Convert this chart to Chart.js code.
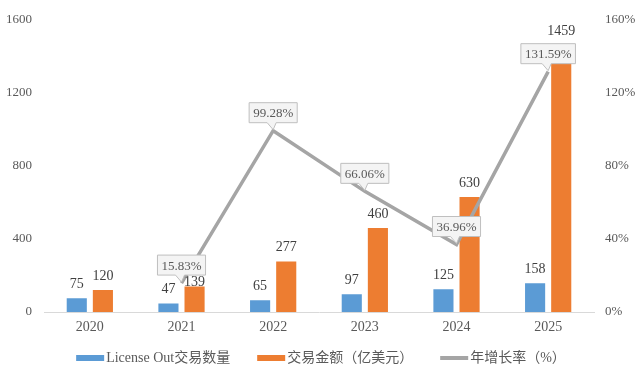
<!DOCTYPE html>
<html>
<head>
<meta charset="utf-8">
<script src="https://cdn.jsdelivr.net/npm/chart.js@4/dist/chart.umd.min.js"></script>
<style>
  html, body { margin: 0; padding: 0; background: #fff; }
  #wrap { width: 640px; height: 371px; position: relative; }
</style>
</head>
<body>
<div id="wrap"><canvas id="chart"></canvas></div>
<script>
const years = ["2020", "2021", "2022", "2023", "2024", "2025"];
const dealCounts = [75, 47, 65, 97, 125, 158];
const dealAmounts = [120, 139, 277, 460, 630, 1459];
const growthRates = [null, 15.83, 99.28, 66.06, 36.96, 131.59];
const countLabel = "License Out交易数量";
const amountLabel = "交易金额（亿美元）";
const growthLabel = "年增长率（%）";

const FONT = "'Liberation Serif', 'Noto Sans CJK SC', serif";
const BLUE = "#5b9bd5";
const ORANGE = "#ed7d31";
const GREY = "#a5a5a5";

Chart.defaults.font.family = FONT;
Chart.defaults.color = "#595959";

// value labels over bars, callout boxes on the growth line, and the legend
const annotate = {
  id: "annotate",
  afterDatasetsDraw(chart) {
    const ctx = chart.ctx;
    ctx.save();
    ctx.textAlign = "center";
    ctx.textBaseline = "middle";

    // callout boxes first, so bar labels can avoid them
    const lm = chart.getDatasetMeta(0);
    ctx.font = "13px " + FONT;
    const boxes = [];
    lm.data.forEach(function (pt, i) {
      const v = growthRates[i];
      if (v === null) return;
      const txt = v.toFixed(2) + "%";
      const w = ctx.measureText(txt).width + 8;
      const h = 20;
      boxes.push({ txt: txt, px: pt.x, py: pt.y, w: w, h: h, x: pt.x - w / 2, y: pt.y - 8 - h });
    });

    // bar values
    ctx.font = "14px " + FONT;
    ctx.fillStyle = "#404040";
    [1, 2].forEach(function (di) {
      const meta = chart.getDatasetMeta(di);
      const vals = chart.data.datasets[di].data;
      meta.data.forEach(function (bar, i) {
        const txt = String(vals[i]);
        const tw = ctx.measureText(txt).width;
        let ly = bar.y - 14;
        boxes.forEach(function (b) {
          const hit = bar.x + tw / 2 > b.x && bar.x - tw / 2 < b.x + b.w &&
            ly + 7 > b.y && ly - 7 < b.y + b.h;
          if (hit) ly = b.y + b.h + 7;
        });
        ctx.fillText(txt, bar.x, ly);
      });
    });

    ctx.font = "13px " + FONT;
    boxes.forEach(function (b) {
      ctx.beginPath();
      ctx.moveTo(b.x, b.y);
      ctx.lineTo(b.x + b.w, b.y);
      ctx.lineTo(b.x + b.w, b.y + b.h);
      ctx.lineTo(b.px + 3, b.y + b.h);
      ctx.lineTo(b.px, b.py - 1);
      ctx.lineTo(b.px - 6, b.y + b.h);
      ctx.lineTo(b.x, b.y + b.h);
      ctx.closePath();
      ctx.fillStyle = "#f4f4f4";
      ctx.fill();
      ctx.lineWidth = 1;
      ctx.strokeStyle = "#bfbfbf";
      ctx.stroke();
      ctx.fillStyle = "#595959";
      ctx.fillText(b.txt, b.x + b.w / 2, b.y + b.h / 2 + 1);
    });
    ctx.restore();
  },
  afterDraw(chart) {
    const ctx = chart.ctx;
    const items = [
      { text: countLabel, color: BLUE, kind: "box" },
      { text: amountLabel, color: ORANGE, kind: "box" },
      { text: growthLabel, color: GREY, kind: "line" },
    ];
    ctx.save();
    ctx.font = "14px " + FONT;
    ctx.textBaseline = "middle";
    ctx.textAlign = "left";
    const gap = 27, sw = 28, sp = 2;
    let total = 0;
    items.forEach(function (it) {
      it.w = sw + sp + ctx.measureText(it.text).width;
      total += it.w;
    });
    total += gap * (items.length - 1);
    let x = (chart.width - total) / 2 + 1;
    const y = 358;
    items.forEach(function (it) {
      ctx.fillStyle = it.color;
      if (it.kind === "box") {
        ctx.fillRect(x, y - 3, sw, 6);
      } else {
        ctx.fillRect(x, y - 2, sw, 4);
      }
      ctx.fillStyle = "#595959";
      ctx.fillText(it.text, x + sw + sp, y);
      x += it.w + gap;
    });
    ctx.restore();
  },
};

new Chart(document.getElementById("chart"), {
  type: "bar",
  data: {
    labels: years,
    datasets: [
      {
        type: "line",
        label: growthLabel,
        data: growthRates,
        yAxisID: "y1",
        borderColor: GREY,
        backgroundColor: GREY,
        borderWidth: 3.5,
        pointRadius: 0,
        tension: 0,
        order: 0,
      },
      {
        label: countLabel,
        data: dealCounts,
        backgroundColor: BLUE,
        yAxisID: "y",
        categoryPercentage: 0.57,
        barPercentage: 0.77,
        order: 1,
      },
      {
        label: amountLabel,
        data: dealAmounts,
        backgroundColor: ORANGE,
        yAxisID: "y",
        categoryPercentage: 0.57,
        barPercentage: 0.77,
        order: 2,
      },
    ],
  },
  options: {
    responsive: true,
    maintainAspectRatio: false,
    animation: false,
    layout: { padding: { top: 14, bottom: 35, left: 0, right: 0 } },
    plugins: {
      legend: { display: false },
      tooltip: { enabled: false },
    },
    scales: {
      x: {
        grid: { display: false, drawTicks: false },
        border: { display: true, color: "#d9d9d9", width: 1 },
        ticks: { padding: 7, font: { size: 14 }, color: "#595959" },
        afterFit: function (s) { s.height = 24; },
      },
      y: {
        position: "left",
        min: 0,
        max: 1600,
        grid: { display: false, drawTicks: false },
        border: { display: false },
        ticks: {
          stepSize: 400,
          padding: 12,
          font: { size: 13 },
          callback: function (v) { return String(v); },
        },
        afterFit: function (s) { s.width = 44; },
      },
      y1: {
        position: "right",
        min: 0,
        max: 160,
        grid: { display: false, drawTicks: false },
        border: { display: false },
        ticks: {
          stepSize: 40,
          padding: 11,
          font: { size: 13 },
          callback: function (v) { return v + "%"; },
        },
        afterFit: function (s) { s.width = 46; },
      },
    },
  },
  plugins: [annotate],
});
</script>
</body>
</html>
